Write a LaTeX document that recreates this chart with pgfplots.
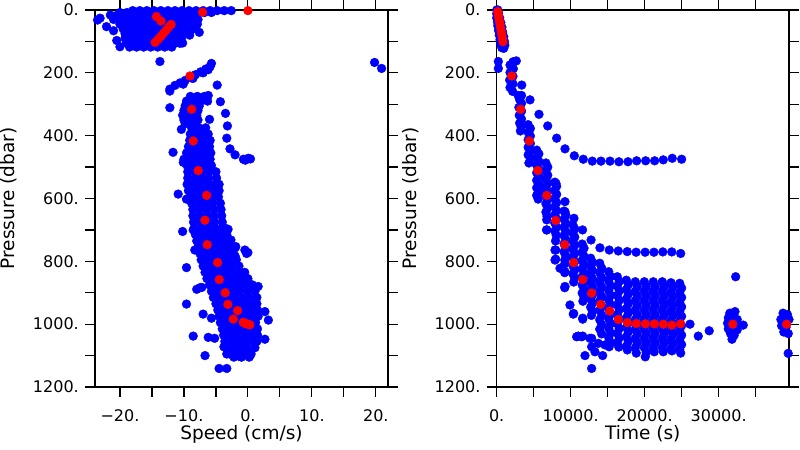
\documentclass[border=0pt]{standalone}
\usepackage{pgfplots}
\pgfplotsset{compat=1.18}
\usepackage{fontspec}
\setmainfont{DejaVu Sans}
\definecolor{ptblue}{RGB}{0,0,255}
\definecolor{ptred}{RGB}{255,0,0}
\begin{document}
\begin{tikzpicture}
\useasboundingbox (0,0) rectangle (800bp,450bp);
\pgfplotsset{
 myax/.style={
  scale only axis, height=377bp, y dir=reverse, ymin=0, ymax=1200,
  ytick={0,200,400,600,800,1000,1200},
  yticklabels={0.,200.,400.,600.,800.,1000.,1200.},
  minor ytick={100,300,500,700,900,1100},
  scaled x ticks=false, scaled y ticks=false,
  tick align=outside, major tick length=10bp, minor tick length=10bp,
  xtick pos=both, ytick pos=both, xticklabel pos=bottom, yticklabel pos=left,
  axis line style={line width=1.2bp},
  every tick/.style={black, line width=1.2bp},
  every minor tick/.style={black, line width=1.2bp},
  tick label style={font=\fontsize{16bp}{19bp}\selectfont},
  yticklabel style={anchor=east, inner sep=0pt, xshift=-6bp},
  xticklabel style={anchor=center, inner sep=0pt, yshift=-19bp},
  every axis y label/.style={at={(axis description cs:0,0.5)}, xshift=-86bp, rotate=90, anchor=center, font=\fontsize{18.5bp}{22bp}\selectfont},
  every axis x label/.style={at={(axis description cs:0.5,0)}, yshift=-47bp, anchor=center, font=\fontsize{18.5bp}{22bp}\selectfont},
  axis on top,
  every axis plot/.append style={only marks, mark=*, mark size=4.4bp},
 }
}
\begin{axis}[myax, at={(95bp,63bp)}, anchor=south west, width=293bp,
  xmin=-23.9, xmax=21.9,
  xtick={-20,-10,0,10,20}, xticklabels={−20.,−10.,0.,10.,20.},
  minor xtick={-15,-5,5,15},
  xlabel={Speed (cm/s)}, ylabel={Pressure (dbar)}]
\addplot[ptblue, mark options={fill=ptblue, draw=ptblue}] coordinates {
(-18,2)(-16.9,2)(-15.8,2)(-14.7,2)(-13.6,2)(-12.5,2)(-11.4,2)(-10.3,2)(-9.2,2)(-8.1,2)(-7,2)(-5.9,2)(-4.8,2)(-3.7,2)(-2.6,2)
(-20,8)(-18.9,8)(-17.8,8)(-16.7,8)(-15.6,8)(-14.5,8)(-13.4,8)(-12.3,8)(-11.2,8)(-10.1,8)(-9,8)(-7.9,8)(-6.8,8)(-5.7,8)
(-21.5,16)(-20.4,16)(-19.3,16)(-18.2,16)(-17.1,16)(-16,16)(-14.9,16)(-13.8,16)(-12.7,16)(-11.6,16)(-10.5,16)(-9.4,16)(-8.3,16)
(-21,30)(-19.9,30)(-18.8,30)(-17.7,30)(-16.6,30)(-15.5,30)(-14.4,30)(-13.3,30)(-12.2,30)(-11.1,30)(-10,30)(-8.9,30)(-7.8,30)
(-20,45)(-18.9,45)(-17.8,45)(-16.7,45)(-15.6,45)(-14.5,45)(-13.4,45)(-12.3,45)(-11.2,45)(-10.1,45)(-9,45)(-7.9,45)
(-19.5,60)(-18.4,60)(-17.3,60)(-16.2,60)(-15.1,60)(-14,60)(-12.9,60)(-11.8,60)(-10.7,60)(-9.6,60)(-8.5,60)
(-19.2,75)(-18.1,75)(-17,75)(-15.9,75)(-14.8,75)(-13.7,75)(-12.6,75)(-11.5,75)(-10.4,75)(-9.3,75)
(-19.2,90)(-18.1,90)(-17,90)(-15.9,90)(-14.8,90)(-13.7,90)(-12.6,90)(-11.5,90)(-10.4,90)
(-19,105)(-17.9,105)(-16.8,105)(-15.7,105)(-14.6,105)(-13.5,105)(-12.4,105)(-11.3,105)(-10.2,105)
(-18.5,118)(-17.4,118)(-16.3,118)(-15.2,118)(-14.1,118)(-13,118)(-11.9,118)
(-23.1,26)(-22.1,53)(-21,66)(-20.5,97)(-20,117)(-7.6,71)(-9.1,80)(-10.6,106)(-13.75,164)(19.8,167)(20.9,186)(-23.5,32)
(-11.4,240)(-10.6,232)(-9.8,224)(-9,215)(-8.2,206)(-7.4,197)(-6.6,188)(-5.9,180)(-10.1,236)(-8.6,218)(-7,200)(-6.2,190)(-5.7,170)
(-12.2,258)(-12.2,311)(-4.8,239)(-4.3,292)(-3.5,329)(-3.2,369)(-3.3,408)(-2.8,442)(-2.0,461)(-0.7,475)(0.05,472)(-0.4,478)(0.4,474)
(-9,275)(-7.9,275)(-6.8,275)(-6.2,272)(-9.6,290)(-8.5,290)(-7.4,290)(-6.3,290)(-9.8,305)(-8.7,305)(-7.6,305)(-10,320)(-8.9,320)(-7.8,320)
(-10.2,335)(-9.1,335)(-8,335)(-10,350)(-8.9,350)(-7.8,350)(-9.8,362)(-8.7,362)(-6,348)(-10.4,380)(-12.2,252)
(-8.8,375)(-7.7,375)(-6.6,375)
(-9.0,395)(-7.9,395)(-6.8,395)(-6.2,395)
(-9.1,415)(-8.0,415)(-6.9,415)(-5.9,415)
(-9.3,435)(-8.2,435)(-7.1,435)(-6.0,435)
(-9.6,455)(-8.5,455)(-7.4,455)(-6.3,455)(-5.8,455)
(-10.0,475)(-8.9,475)(-7.8,475)(-6.7,475)(-5.9,475)
(-9.5,495)(-8.4,495)(-7.3,495)(-6.2,495)(-5.7,495)
(-9.4,515)(-8.3,515)(-7.2,515)(-6.1,515)(-5.0,515)
(-9.4,535)(-8.3,535)(-7.2,535)(-6.1,535)(-4.9,535)
(-9.5,555)(-8.4,555)(-7.3,555)(-6.2,555)(-5.1,555)(-4.5,555)
(-9.3,575)(-8.2,575)(-7.1,575)(-6.0,575)(-4.9,575)(-4.5,575)
(-9.0,595)(-7.9,595)(-6.8,595)(-5.7,595)(-4.6,595)
(-8.8,615)(-7.7,615)(-6.6,615)(-5.5,615)(-4.3,615)
(-8.6,635)(-7.5,635)(-6.4,635)(-5.3,635)(-4.2,635)
(-8.6,655)(-7.5,655)(-6.4,655)(-5.3,655)(-4.1,655)
(-8.5,675)(-7.4,675)(-6.3,675)(-5.2,675)(-4.0,675)
(-8.4,695)(-7.3,695)(-6.2,695)(-5.1,695)(-4.0,695)(-3.5,695)
(-8.2,715)(-7.1,715)(-6.0,715)(-4.9,715)(-3.8,715)(-3.3,715)
(-8.0,735)(-6.9,735)(-5.8,735)(-4.7,735)(-3.6,735)(-2.8,735)
(-7.8,755)(-6.7,755)(-5.6,755)(-4.5,755)(-3.4,755)(-2.5,755)
(-7.5,775)(-6.4,775)(-5.3,775)(-4.2,775)(-3.1,775)(-2.3,775)
(-7.3,795)(-6.2,795)(-5.1,795)(-4.0,795)(-2.9,795)(-1.8,795)
(-7.0,815)(-5.9,815)(-4.8,815)(-3.7,815)(-2.6,815)(-1.4,815)
(-6.7,835)(-5.6,835)(-4.5,835)(-3.4,835)(-2.3,835)(-1.2,835)(-0.5,835)
(-6.4,855)(-5.3,855)(-4.2,855)(-3.1,855)(-2.0,855)(-0.9,855)(0.0,855)
(-6.0,875)(-4.9,875)(-3.8,875)(-2.7,875)(-1.6,875)(-0.5,875)(0.7,875)
(-5.7,895)(-4.6,895)(-3.5,895)(-2.4,895)(-1.3,895)(-0.1,895)(1.1,895)
(-5.4,915)(-4.3,915)(-3.2,915)(-2.1,915)(-1.0,915)(0.2,915)(1.4,915)
(-5.0,935)(-3.9,935)(-2.8,935)(-1.7,935)(-0.6,935)(0.5,935)(1.4,935)
(-4.7,955)(-3.6,955)(-2.5,955)(-1.4,955)(-0.3,955)(0.8,955)(1.5,955)
(-4.5,975)(-3.4,975)(-2.3,975)(-1.2,975)(-0.1,975)(1.0,975)(1.6,975)
(-4.3,995)(-3.2,995)(-2.1,995)(-1.0,995)(0.1,995)(1.2,995)
(-4.0,1015)(-2.9,1015)(-1.8,1015)(-0.7,1015)(0.4,1015)(1.5,1015)
(-3.8,1035)(-2.7,1035)(-1.6,1035)(-0.5,1035)(0.6,1035)(1.5,1035)
(-3.6,1055)(-2.5,1055)(-1.4,1055)(-0.3,1055)(0.8,1055)(1.4,1055)
(-3.4,1075)(-2.3,1075)(-1.2,1075)(-0.1,1075)(1.1,1075)
(-2.8,1095)(-1.7,1095)(-0.6,1095)(0.5,1095)
(-2.2,1105)(-1.0,1105)(0.2,1105)(-1.25,1103)(0.3,1101)
(-11.7,453)(-10.1,485)(-10.9,586)(-9.6,602)(-10.2,705)(-8.55,700)(-3.1,698)(-2.65,732)(-1.9,753)(-0.47,764)(0,772)(-2.0,783)
(-8.3,764)(-9.6,820)(-7.5,884)(-9.6,936)(-7.0,968)(-5.7,981)(-8.55,1038)(-6.2,1042)(-5.2,1045)(-6.7,1100)(-3.75,1072)(-3.3,1095)
(-4.5,1141)(-3.3,1141)(2.66,960)(3.2,987)(2.66,1048)(1.6,880)(-8.0,889)(-7.2,883)(-0.2,775)(-2.0,757)
};
\addplot[ptred, mark options={fill=ptred, draw=ptred}] coordinates {
(0,2)(-7.1,7)(-14.3,21)(-13.6,35)(-12.0,46)(-12.4,55)(-12.8,65)(-13.2,74)(-13.6,84)(-14.0,93)(-14.5,103)
(-9.06,210)(-8.8,316)(-8.55,417)(-7.77,511)(-6.45,590)(-6.72,669)(-6.36,747)(-4.74,804)(-4.48,858)(-3.55,900)(-3.13,937)
(-1.61,957)(-2.29,984)(-0.73,994)(-0.2,999)(0.31,1002)(0.0,1000)(-0.5,997)
};
\end{axis}
\begin{axis}[myax, at={(496.7bp,63bp)}, anchor=south west, width=292.3bp,
  xmin=0, xmax=39500,
  xtick={0,10000,20000,30000}, xticklabels={0.,10000.,20000.,30000.},
  minor xtick={5000,15000,25000,35000},
  xlabel={Time (s)}, ylabel={Pressure (dbar)}]
\addplot[ptblue, mark options={fill=ptblue, draw=ptblue}] coordinates {
(0,0)(150,0)(0,12)(250,10)(0,25)(200,22)(400,25)(100,38)(350,38)(550,40)(150,50)(450,52)(700,55)(250,65)(550,67)(800,70)
(350,80)(650,82)(950,85)(450,95)(750,97)(1050,100)(550,108)(850,110)(1100,112)(700,120)(950,122)
(220,164)(220,186)
(2200,165)(2650,162)(1800,175)(2250,187)(1800,199)(2200,211)(1750,223)(2200,235)(1800,247)(2150,259)(3380,239)
(2900,272)(3350,272)(3100,285)(3350,297)(3000,310)(3350,322)(3050,335)(3350,347)(3100,360)(3300,372)(3200,385)(4500,286)
(4250,365)(4550,377)(4250,389)(4550,401)(4250,413)(4550,425)(4250,437)(4550,449)(4250,461)(4550,473)(4350,487)
(5400,446)(5700,458)(5400,470)(5700,482)(5400,494)(5700,506)(5400,518)(5700,530)(5400,542)(5700,554)(5400,566)(5700,578)(5400,590)(5600,602)
(6650,487)(6900,500)(6650,513)(6900,526)(6650,539)(6900,552)(6650,565)(6900,578)(6650,591)(6900,604)(6650,617)(6900,630)(6650,643)(6800,656)(6750,668)(6750,700)
(7850,548)(8100,561)(7850,574)(8100,587)(7850,600)(8100,613)(7850,626)(8100,639)(7850,652)(8100,665)(7850,678)(8100,691)(7850,704)(8050,717)(7950,735)(7970,764)(7970,793)(8010,552)
(9230,610)(9100,640)(9350,653)(9100,666)(9350,679)(9100,692)(9350,705)(9100,718)(9350,731)(9100,744)(9350,757)(9100,770)(9350,783)(9200,796)(9200,808)(9190,836)(9190,884)(9230,642)
(10440,663)(10300,684)(10550,697)(10300,710)(10550,723)(10300,736)(10550,749)(10300,762)(10550,775)(10300,788)(10550,801)(10300,814)(10550,827)(10300,840)(10550,853)(10400,866)(10400,966)
(11550,745)(11800,758)(11550,771)(11800,784)(11550,797)(11800,810)(11550,823)(11800,836)(11550,849)(11800,862)(11550,875)(11800,888)(11550,901)(11800,914)(11650,927)(11620,981)(11020,1038)(11620,1038)(11930,1100)(10800,1040)(11480,1040)
(12700,790)(12950,803)(12700,816)(12950,829)(12700,842)(12950,855)(12700,868)(12950,881)(12700,894)(12950,907)(12700,920)(12950,933)(12700,946)(12950,959)(12800,972)(12830,1045)(12830,1072)(12830,1141)(13280,1088)(13730,1061)(12600,1045)
(13920,806)(14180,821)(13920,836)(14180,851)(13920,866)(14180,881)(13920,896)(14180,911)(13920,926)(14180,941)(13920,956)(14180,971)(13920,986)(14180,1001)(13920,1016)(14180,1031)(14320,1100)(14630,1066)
(15140,833)(15400,848)(15140,863)(15400,878)(15140,893)(15400,908)(15140,923)(15400,938)(15140,953)(15400,968)(15140,983)(15400,998)(15140,1013)(15400,1028)(15140,1043)(15400,1058)(15200,1072)
(16300,849)(16560,864)(16300,879)(16560,894)(16300,909)(16560,924)(16300,939)(16560,954)(16300,969)(16560,984)(16300,999)(16560,1014)(16300,1029)(16560,1044)(16300,1059)(16500,1073)
(17520,860)(17780,875)(17520,890)(17780,905)(17520,920)(17780,935)(17520,950)(17780,965)(17520,980)(17780,995)(17520,1010)(17780,1025)(17520,1040)(17780,1055)(17520,1070)(17650,1082)
(18730,865)(18990,880)(18730,895)(18990,910)(18730,925)(18990,940)(18730,955)(18990,970)(18730,985)(18990,1000)(18730,1015)(18990,1030)(18730,1045)(18990,1060)(18730,1075)(18860,1092)
(19950,865)(20210,880)(19950,895)(20210,910)(19950,925)(20210,940)(19950,955)(20210,970)(19950,985)(20210,1000)(19950,1015)(20210,1030)(19950,1045)(20210,1060)(19950,1075)(20210,1090)(20080,1104)
(21160,865)(21420,880)(21160,895)(21420,910)(21160,925)(21420,940)(21160,955)(21420,970)(21160,985)(21420,1000)(21160,1015)(21420,1030)(21160,1045)(21420,1060)(21160,1075)(21290,1088)
(22380,865)(22640,880)(22380,895)(22640,910)(22380,925)(22640,940)(22380,955)(22640,970)(22380,985)(22640,1000)(22380,1015)(22640,1030)(22380,1045)(22640,1060)(22380,1075)(22510,1088)
(23550,868)(23810,883)(23550,898)(23810,913)(23550,928)(23810,943)(23550,958)(23810,973)(23550,988)(23810,1003)(23550,1018)(23810,1033)(23550,1048)(23810,1063)(23550,1078)(23680,1085)
(24730,870)(24990,885)(24730,900)(24990,915)(24730,930)(24990,945)(24730,960)(24990,975)(24730,990)(24990,1005)(24730,1020)(24990,1035)(24730,1050)(24990,1065)(24730,1080)(24860,1092)
(6750,700)(7880,764)(7880,796)(8550,822)(9230,880)(9230,833)(9900,939)(10350,968)(11620,984)
(5715,332)(6890,369)(8100,408)(9230,442)(10490,464)(11700,475)(12920,481)(14090,481)(15310,481)(16520,483)(17740,483)(18910,480)(20130,480)(21340,480)(22510,477)(23720,472)(24990,475)
(11600,700)(12750,732)(13950,757)(15210,764)(16430,767)(17640,769)(18840,771)(20060,771)(21250,771)(22450,770)(23660,770)(24860,775)
(26120,1000)(27240,1038)(28720,1021)
(31500,965)(32200,960)(31300,980)(31900,980)(32500,985)(31200,997)(31800,1000)(32400,1000)(31300,1015)(32000,1015)(32500,1018)(31600,1030)(32100,1035)(31800,1048)(32290,849)(33320,1003)
(38700,965)(39300,970)(38400,985)(39000,990)(39500,985)(38500,1005)(39100,1010)(38800,1025)(39400,1030)(39390,1093)
};
\addplot[ptred, mark options={fill=ptred, draw=ptred}] coordinates {
(135,5)(210,15)(290,25)(370,36)(450,46)(530,57)(610,68)(690,79)(770,90)(850,101)
(2030,210)(3240,316)(4410,417)(5560,511)(6780,590)(7970,670)(9190,747)(10400,804)(11620,858)(12830,901)(14050,937)
(15270,958)(16430,985)(17650,995)(18860,998)(20080,999)(21300,999)(22510,1000)(23660,1003)(24850,999)(31900,1000)(39180,1000)
};
\end{axis}
\end{tikzpicture}
\end{document}
